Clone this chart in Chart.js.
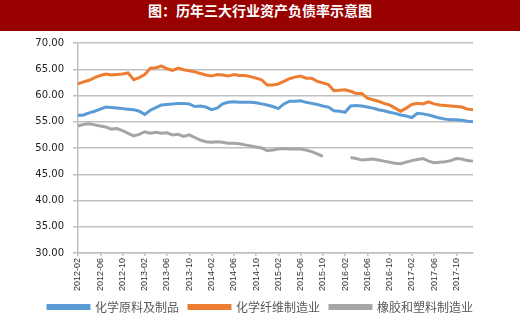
<!DOCTYPE html>
<html>
<head>
<meta charset="utf-8">
<script src="https://cdn.jsdelivr.net/npm/chart.js@4/dist/chart.umd.min.js"></script>
<style>
  html, body { margin: 0; padding: 0; background: #fff; }
  #title {
    width: 520px; height: 31px; background: #990000; color: #fff;
    font: bold 14px "Noto Sans CJK SC", sans-serif; text-align: center;
    line-height: 21px; box-sizing: border-box;
  }
  /* pulled up a little so the plot top sits where the original's does */
  #wrap { position: relative; width: 520px; height: 302px; margin-top: -3px; }
</style>
</head>
<body>
<div id="title">图：历年三大行业资产负债率示意图</div>
<div id="wrap"><canvas id="chart"></canvas></div>
<script>
// monthly categories, 2012-02 .. 2018-01
const months = [
  "2012-02","2012-03","2012-04","2012-05","2012-06","2012-07","2012-08","2012-09","2012-10","2012-11","2012-12",
  "2013-01","2013-02","2013-03","2013-04","2013-05","2013-06","2013-07","2013-08","2013-09","2013-10","2013-11","2013-12",
  "2014-01","2014-02","2014-03","2014-04","2014-05","2014-06","2014-07","2014-08","2014-09","2014-10","2014-11","2014-12",
  "2015-01","2015-02","2015-03","2015-04","2015-05","2015-06","2015-07","2015-08","2015-09","2015-10","2015-11","2015-12",
  "2016-01","2016-02","2016-03","2016-04","2016-05","2016-06","2016-07","2016-08","2016-09","2016-10","2016-11","2016-12",
  "2017-01","2017-02","2017-03","2017-04","2017-05","2017-06","2017-07","2017-08","2017-09","2017-10","2017-11","2017-12",
  "2018-01"
];

const seriesNames = ["化学原料及制品", "化学纤维制造业", "橡胶和塑料制造业"];

const chemRaw = [
  56.2, 56.3, 56.7, 57.0, 57.4, 57.8, 57.7, 57.6, 57.5, 57.4, 57.3, 57.0,
  56.4, 57.2, 57.7, 58.2, 58.3, 58.4, 58.5, 58.5, 58.4, 57.9, 58.0, 57.8,
  57.3, 57.6, 58.4, 58.7, 58.8, 58.7, 58.7, 58.7, 58.6, 58.4, 58.2, 57.9,
  57.5, 58.4, 58.9, 58.9, 59.0, 58.7, 58.5, 58.3, 58.0, 57.8, 57.1, 57.0,
  56.8, 58.0, 58.1, 58.0, 57.8, 57.6, 57.3, 57.1, 56.8, 56.6, 56.3, 56.1,
  55.8, 56.6, 56.5, 56.3, 56.0, 55.7, 55.5, 55.4, 55.4, 55.3, 55.1, 55.0
];

const chemFiber = [
  62.2, 62.6, 62.9, 63.4, 63.8, 64.1, 63.9, 64.0, 64.1, 64.3, 63.0, 63.4,
  64.0, 65.2, 65.3, 65.6, 65.1, 64.8, 65.2, 64.9, 64.7, 64.5, 64.2, 63.9,
  63.7, 64.0, 63.9, 63.7, 64.0, 63.8, 63.8, 63.6, 63.3, 63.0, 62.0, 62.0,
  62.2, 62.7, 63.2, 63.5, 63.7, 63.3, 63.3, 62.7, 62.4, 62.1, 60.9, 61.0,
  61.1, 60.8, 60.4, 60.4, 59.5, 59.2, 58.9, 58.5, 58.2, 57.6, 57.0, 57.6,
  58.3, 58.5, 58.4, 58.8, 58.4, 58.2, 58.1, 58.0, 57.9, 57.8, 57.4, 57.3
];

const rubberPlastic = [
  54.2, 54.5, 54.6, 54.4, 54.2, 54.0, 53.6, 53.7, 53.3, 52.8, 52.3, 52.6,
  53.1, 52.8, 53.0, 52.8, 52.9, 52.5, 52.6, 52.2, 52.5, 52.0, 51.5, 51.2,
  51.1, 51.2, 51.1, 50.9, 50.9, 50.8, 50.6, 50.4, 50.2, 50.0, 49.5, 49.6,
  49.8, 49.9, 49.8, 49.8, 49.8, 49.6, 49.3, 48.9, 48.4, null, null, null,
  null, 48.2, 48.0, 47.7, 47.8, 47.9, 47.7, 47.5, 47.3, 47.1, 47.0, 47.3,
  47.6, 47.8, 48.0, 47.5, 47.2, 47.3, 47.4, 47.6, 48.0, 47.9, 47.6, 47.5
];

const yTicks = [30, 35, 40, 45, 50, 55, 60, 65, 70];
const colors = ["#5b9bd5", "#ed7d31", "#a5a5a5"];

// the original legend is centred on the whole picture, not on the plot
const legendShift = {
  id: "legendShift",
  afterLayout(chart) {
    chart.legend.left += 24;
    chart.legend.right += 24;
  }
};

const ctx = document.getElementById("chart").getContext("2d");
new Chart(ctx, {
  type: "line",
  data: {
    labels: months,
    datasets: [chemRaw, chemFiber, rubberPlastic].map((vals, i) => ({
      label: seriesNames[i],
      data: vals,
      borderColor: colors[i],
      backgroundColor: colors[i],
      borderWidth: 3,
      pointRadius: 0,
      tension: 0,
      spanGaps: false
    }))
  },
  plugins: [legendShift],
  options: {
    responsive: true,
    maintainAspectRatio: false,
    animation: false,
    layout: { padding: { top: 0, right: 47, bottom: 7, left: 0 } },
    plugins: {
      legend: {
        position: "bottom",
        labels: {
          boxWidth: 41,
          boxHeight: 3,
          padding: 10,
          color: "#595959",
          font: { family: "Noto Sans CJK SC", size: 12 }
        }
      },
      tooltip: { enabled: false }
    },
    scales: {
      x: {
        grid: {
          drawOnChartArea: false,
          tickLength: 3,
          color: "#bfbfbf",
          lineWidth: 1.5
        },
        border: { color: "#bfbfbf", width: 1.5 },
        afterFit: (scale) => { scale.height = 38; },
        ticks: {
          autoSkip: false,
          minRotation: 90,
          maxRotation: 90,
          padding: 2,
          color: "#333",
          font: { family: "Liberation Sans", size: 9 },
          callback: function (val, idx) {
            return idx % 4 === 0 ? months[idx] : null;
          }
        }
      },
      y: {
        min: 30,
        max: 70,
        afterFit: (scale) => { scale.width = 78; },
        afterBuildTicks: (scale) => { scale.ticks = yTicks.map(v => ({ value: v })); },
        grid: { color: "#bfbfbf", lineWidth: 1.5, tickLength: 5 },
        border: { color: "#bfbfbf", width: 1.5 },
        ticks: {
          padding: 9,
          color: "#222",
          font: { family: "DejaVu Sans", size: 10 },
          callback: (v) => v.toFixed(2)
        }
      }
    }
  }
});
</script>
</body>
</html>
